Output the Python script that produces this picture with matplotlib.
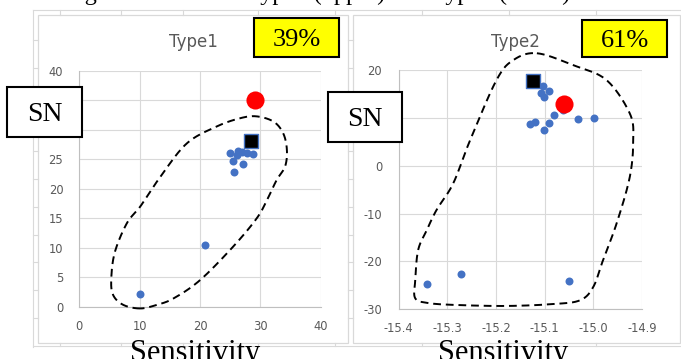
import numpy as np
import matplotlib
matplotlib.use("Agg")
import matplotlib.pyplot as plt
from matplotlib.patches import Rectangle
from matplotlib.lines import Line2D
from matplotlib.ticker import FormatStrFormatter, MultipleLocator

plt.rcParams['axes.unicode_minus'] = False

# ---------------- data ----------------
t1_blue_x = [10.0, 20.8, 25.0, 25.5, 25.7, 26.1, 26.3, 26.9, 27.1, 27.8, 28.8]
t1_blue_y = [2.2, 10.5, 26.0, 24.7, 22.8, 25.8, 26.5, 26.3, 24.3, 26.1, 25.9]
t1_square_x = [28.5]
t1_square_y = [28.1]
t1_red_x = [29.1]
t1_red_y = [35.0]
t1_curve_x = [10.1, 7.3, 5.6, 5.3, 5.9, 7.9, 10.1, 13.4, 17.8, 22.8, 26.7, 29.4, 32.2, 33.8,
              34.4, 34.1, 32.7, 31.1, 29.4, 25.5, 20.0, 15.6, 12.8]
t1_curve_y = [-0.3, 0.3, 2.0, 4.8, 9.3, 14.2, 17.0, 22.0, 27.7, 30.6, 32.0, 32.3, 31.4, 29.4,
              26.6, 23.8, 21.5, 18.1, 15.0, 10.2, 4.5, 1.4, 0.3]

t2_blue_x = [-15.341, -15.271, -15.051, -15.130, -15.120, -15.101, -15.091, -15.081, -15.063,
             -15.031, -14.999, -15.103, -15.091, -15.108, -15.101]
t2_blue_y = [-24.8, -22.7, -24.1, 8.65, 9.2, 7.46, 8.85, 10.6, 11.6, 9.76, 10.0, 16.65, 15.6,
             15.26, 14.4]
t2_square_x = [-15.123]
t2_square_y = [17.7]
t2_red_x = [-15.060]
t2_red_y = [12.8]
t2_curve_x = [-15.116, -15.041, -14.973, -14.925, -14.918, -14.925, -14.952, -14.980, -15.000,
              -15.027, -15.082, -15.178, -15.281, -15.339, -15.366, -15.366, -15.360, -15.342,
              -15.322, -15.288, -15.253, -15.199, -15.164]
t2_curve_y = [23.5, 21.0, 17.9, 10.9, 5.4, -2.3, -12.0, -19.7, -25.3, -28.1, -28.9, -29.3,
              -29.1, -28.7, -27.7, -23.9, -17.6, -13.4, -9.2, -3.7, 5.4, 17.9, 22.1]

t1_title = "Type1"
t2_title = "Type2"
t1_pct = "39%"
t2_pct = "61%"
caption = "Rating distribution of Type1 (upper) and Type2 (lower)"

BLUE = '#4472C4'

W, H = 681, 359
fig = plt.figure(figsize=(W / 100, H / 100), dpi=100)
fig.patch.set_facecolor('white')


def fx(x):
    return x / W


def fy(y):
    return 1 - y / H


def closed_curve(xs, ys, n=30):
    P = np.column_stack([xs, ys]).astype(float)
    m = len(P)
    out = []
    t = np.linspace(0, 1, n, endpoint=False)[:, None]
    for i in range(m):
        p0, p1, p2, p3 = P[(i - 1) % m], P[i], P[(i + 1) % m], P[(i + 2) % m]
        out.append(0.5 * ((2 * p1) + (-p0 + p2) * t + (2 * p0 - 5 * p1 + 4 * p2 - p3) * t ** 2
                          + (-p0 + 3 * p1 - 3 * p2 + p3) * t ** 3))
    out = np.vstack(out + [out[0][:1]])
    return out[:, 0], out[:, 1]


# ---------------- spreadsheet / chart frames ----------------
grey = '#d9d9d9'


def fline(x0, y0, x1, y1, color=grey, lw=0.8):
    fig.add_artist(Line2D([fx(x0), fx(x1)], [fy(y0), fy(y1)], color=color, lw=lw,
                          transform=fig.transFigure, zorder=0))


fline(33, 10, 681, 10)
fline(33, 10, 33, 347)
fline(33, 346, 681, 346)
for cx in [60, 121, 183, 258, 335, 422, 509, 596]:
    fline(cx, 10, cx, 15)
    fline(cx, 343, cx, 346)
for ry in np.arange(40, 340, 27.8):
    fline(33, ry, 38, ry)
    fline(348, ry, 353, ry)

for (x0, y0, x1, y1) in [(38, 15, 348, 343), (353, 15, 680, 343)]:
    fig.add_artist(Rectangle((fx(x0), fy(y1)), fx(x1) - fx(x0), fy(y0) - fy(y1),
                             transform=fig.transFigure, fc='none', ec=grey, lw=0.9, zorder=0))

# ---------------- axes ----------------
ax1 = fig.add_axes([fx(79.3), fy(306.7), (320.7 - 79.3) / W, (306.7 - 71) / H])
ax2 = fig.add_axes([fx(398.7), fy(309.3), (642 - 398.7) / W, (309.3 - 70) / H])

for ax in (ax1, ax2):
    ax.set_facecolor('white')
    ax.grid(True, color=grey, lw=0.8)
    ax.set_axisbelow(True)
    for s in ['top', 'right']:
        ax.spines[s].set_visible(False)
    for s in ['left', 'bottom']:
        ax.spines[s].set_color('#bfbfbf')
        ax.spines[s].set_linewidth(0.8)
    ax.tick_params(length=0, labelsize=8.3, labelcolor='#595959')

ax1.set_xlim(0, 40)
ax1.set_ylim(0, 40)
ax1.xaxis.set_major_locator(MultipleLocator(10))
ax1.yaxis.set_major_locator(MultipleLocator(5))
ax1.tick_params(axis='y', pad=11.5)
ax1.tick_params(axis='x', pad=9.5)

ax2.set_xlim(-15.4, -14.9)
ax2.set_ylim(-30, 20)
ax2.set_xticks(np.arange(-15.4, -14.85, 0.1))
ax2.xaxis.set_major_formatter(FormatStrFormatter('%.1f'))
ax2.yaxis.set_major_locator(MultipleLocator(10))
ax2.tick_params(axis='y', pad=12)
ax2.tick_params(axis='x', pad=9)

# points
ax1.scatter(t1_blue_x, t1_blue_y, s=33, color=BLUE, zorder=3, lw=0)
ax1.scatter(t1_square_x, t1_square_y, s=110, marker='s', fc='black', ec=BLUE, lw=1, zorder=4)
ax1.scatter(t1_red_x, t1_red_y, s=170, color='#ff0000', lw=0, zorder=5)
cx, cy = closed_curve(t1_curve_x, t1_curve_y)
ax1.plot(cx, cy, color='black', lw=1.4, ls=(0, (4, 2.5)), clip_on=False, zorder=6)

ax2.scatter(t2_blue_x, t2_blue_y, s=33, color=BLUE, zorder=3, lw=0)
ax2.scatter(t2_square_x, t2_square_y, s=110, marker='s', fc='black', ec=BLUE, lw=1, zorder=4)
ax2.scatter(t2_red_x, t2_red_y, s=170, color='#ff0000', lw=0, zorder=5)
cx, cy = closed_curve(t2_curve_x, t2_curve_y)
ax2.plot(cx, cy, color='black', lw=1.4, ls=(0, (4, 2.5)), clip_on=False, zorder=6)

# titles
fig.text(fx(193.5), fy(46.7), t1_title, ha='center', va='baseline', fontsize=12,
         color='#595959', family='DejaVu Sans')
fig.text(fx(515.3), fy(46.7), t2_title, ha='center', va='baseline', fontsize=12,
         color='#595959', family='DejaVu Sans')

serif = ['Liberation Serif', 'DejaVu Serif']


def box(x0, y0, x1, y1, fc, text, size):
    fig.add_artist(Rectangle((fx(x0), fy(y1)), fx(x1) - fx(x0), fy(y0) - fy(y1),
                             transform=fig.transFigure, fc=fc, ec='black', lw=1.5, zorder=10))
    fig.text(fx((x0 + x1) / 2), fy((y0 + y1) / 2), text, ha='center', va='center_baseline',
             fontsize=size, family=serif, color='black', zorder=11)


box(254, 18, 339, 57, '#ffff00', t1_pct, 19)
box(582, 20, 667, 57, '#ffff00', t2_pct, 19)
box(7, 87, 82, 137, 'white', 'SN', 20)
box(328, 92, 402, 142, 'white', 'SN', 20)

# axis captions (cut by the figure edge as in the screenshot)
fig.text(fx(195), fy(361), 'Sensitivity', ha='center', va='baseline', fontsize=22, family=serif)
fig.text(fx(503.5), fy(361), 'Sensitivity', ha='center', va='baseline', fontsize=22, family=serif)

# caption at top, mostly cut off
fig.text(fx(32), fy(0), caption, ha='left', va='baseline', fontsize=17.5, family=serif)

fig.savefig('out.png', dpi=100, facecolor='white')
